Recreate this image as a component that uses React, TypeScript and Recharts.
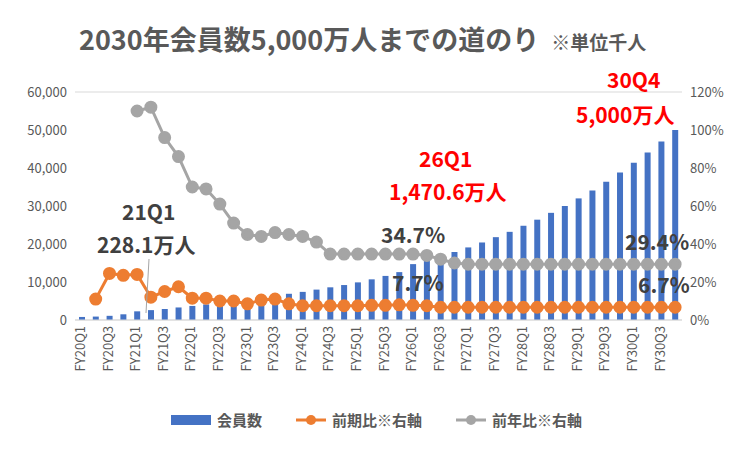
import React from "react";
import {
  ComposedChart,
  Bar,
  Line,
  XAxis,
  YAxis,
  CartesianGrid,
} from "recharts";

// 四半期 FY20Q1〜FY30Q4
const quarters = [
  "FY20Q1", "FY20Q2", "FY20Q3", "FY20Q4",
  "FY21Q1", "FY21Q2", "FY21Q3", "FY21Q4",
  "FY22Q1", "FY22Q2", "FY22Q3", "FY22Q4",
  "FY23Q1", "FY23Q2", "FY23Q3", "FY23Q4",
  "FY24Q1", "FY24Q2", "FY24Q3", "FY24Q4",
  "FY25Q1", "FY25Q2", "FY25Q3", "FY25Q4",
  "FY26Q1", "FY26Q2", "FY26Q3", "FY26Q4",
  "FY27Q1", "FY27Q2", "FY27Q3", "FY27Q4",
  "FY28Q1", "FY28Q2", "FY28Q3", "FY28Q4",
  "FY29Q1", "FY29Q2", "FY29Q3", "FY29Q4",
  "FY30Q1", "FY30Q2", "FY30Q3", "FY30Q4",
];

// 会員数（千人）
const members = [
  800, 900, 1100, 1500,
  2281, 2600, 2900, 3300,
  3700, 4100, 4500, 4900,
  5300, 5800, 6400, 6900,
  7400, 8000, 8600, 9200,
  9900, 10700, 11600, 12600,
  14706, 15700, 16800, 17900,
  19100, 20400, 21800, 23200,
  24800, 26400, 28200, 30000,
  32000, 34100, 36400, 38800,
  41400, 44100, 47000, 50000,
];

// 前期比（%）
const qoq = [
  null, 11, 24.5, 23.5,
  24, 12, 15, 17.5,
  11.5, 11.5, 10, 10,
  8.5, 10.5, 11, 8.5,
  7.5, 7.5, 7.5, 7.5,
  7.5, 7.7, 7.7, 8,
  7.7, 7.5, 6.7, 6.7,
  6.7, 6.7, 6.7, 6.7,
  6.7, 6.7, 6.7, 6.7,
  6.7, 6.7, 6.7, 6.7,
  6.7, 6.7, 6.7, 6.7,
];

// 前年比（%）
const yoy = [
  null, null, null, null,
  110, 112, 96, 86,
  70, 69, 61, 51,
  45, 44, 46, 45,
  44, 41, 34.7, 34.7,
  34.7, 34.7, 34.7, 34.7,
  34.7, 34, 32, 30,
  29.4, 29.4, 29.4, 29.4,
  29.4, 29.4, 29.4, 29.4,
  29.4, 29.4, 29.4, 29.4,
  29.4, 29.4, 29.4, 29.4,
];

const data = quarters.map((q, i) => ({
  q,
  members: members[i],
  qoq: qoq[i],
  yoy: yoy[i],
}));

const FONT = "'Noto Sans CJK JP', 'Noto Sans', sans-serif";
const TICK = { fontSize: 13, fill: "#595959", fontFamily: FONT };

function LegendContent() {
  const item = (icon: React.ReactNode, label: string) => (
    <div style={{ display: "flex", alignItems: "center", gap: 6, fontSize: 15, color: "#595959", fontWeight: 700 }}>
      {icon}
      {label}
    </div>
  );
  const lineIcon = (c: string) => (
    <svg width={30} height={12}>
      <line x1={0} y1={6} x2={30} y2={6} stroke={c} strokeWidth={3} />
      <circle cx={15} cy={6} r={5} fill={c} />
    </svg>
  );
  return (
    <div style={{ position: "absolute", left: 0, width: 751, top: 408, display: "flex", justifyContent: "center", gap: 34, fontFamily: FONT }}>
      {item(<div style={{ width: 40, height: 10, background: "#4472C4" }} />, "会員数")}
      {item(lineIcon("#ED7D31"), "前期比※右軸")}
      {item(lineIcon("#A5A5A5"), "前年比※右軸")}
    </div>
  );
}

const note = (x: number, y: number, text: string, color: string) => (
  <div
    style={{
      position: "absolute",
      left: x,
      top: y,
      color,
      fontSize: 21,
      fontWeight: 700,
      fontFamily: FONT,
      whiteSpace: "nowrap",
      lineHeight: 1,
    }}
  >
    {text}
  </div>
);

export default function App() {
  return (
    <div
      style={{
        position: "relative",
        width: 751,
        height: 450,
        border: "1px solid #d9d9d9",
        borderRadius: 8,
        background: "#fff",
        margin: -8,
      }}
    >
      <div
        style={{
          position: "absolute",
          left: 78,
          top: 24,
          fontFamily: FONT,
          color: "#595959",
          whiteSpace: "nowrap",
          lineHeight: 1,
        }}
      >
        <span style={{ fontSize: 27, fontWeight: 700 }}>2030年会員数5,000万人までの道のり</span>
        <span style={{ fontSize: 19, fontWeight: 700, marginLeft: 12 }}>※単位千人</span>
      </div>
      <ComposedChart
        width={751}
        height={450}
        data={data}
        margin={{ top: 91, right: 8, left: 12, bottom: 65 }}
      >
        <CartesianGrid vertical={false} stroke="#d9d9d9" />
        <XAxis
          dataKey="q"
          interval={1}
          angle={-90}
          textAnchor="end"
          dy={-2}
          dx={-6}
          height={66}
          tick={TICK}
          tickLine={false}
          axisLine={{ stroke: "#d9d9d9" }}
        />
        <YAxis
          yAxisId="l"
          domain={[0, 60000]}
          ticks={[0, 10000, 20000, 30000, 40000, 50000, 60000]}
          tickFormatter={(v) => v.toLocaleString("en-US")}
          tick={TICK}
          axisLine={false}
          tickLine={false}
          width={62}
        />
        <YAxis
          yAxisId="r"
          orientation="right"
          domain={[0, 120]}
          ticks={[0, 20, 40, 60, 80, 100, 120]}
          tickFormatter={(v) => `${v}%`}
          tick={TICK}
          axisLine={false}
          tickLine={false}
          width={62}
        />
        <Bar yAxisId="l" dataKey="members" fill="#4472C4" barSize={6} isAnimationActive={false} />
        <Line
          yAxisId="r"
          dataKey="qoq"
          stroke="#ED7D31"
          strokeWidth={3}
          dot={{ r: 5, fill: "#ED7D31", stroke: "#ED7D31" }}
          isAnimationActive={false}
        />
        <Line
          yAxisId="r"
          dataKey="yoy"
          stroke="#A5A5A5"
          strokeWidth={3}
          dot={{ r: 5, fill: "#A5A5A5", stroke: "#A5A5A5" }}
          isAnimationActive={false}
        />
      </ComposedChart>
      <LegendContent />
      <svg style={{ position: "absolute", left: 0, top: 0 }} width={751} height={450}>
        <line x1={148} y1={258} x2={145} y2={312} stroke="#A5A5A5" strokeWidth={1} />
      </svg>
      {note(121, 200, "21Q1", "#404040")}
      {note(96, 233, "228.1万人", "#404040")}
      {note(418, 147, "26Q1", "#FF0000")}
      {note(388, 180, "1,470.6万人", "#FF0000")}
      {note(380, 223, "34.7%", "#404040")}
      {note(391, 271, "7.7%", "#404040")}
      {note(606, 68, "30Q4", "#FF0000")}
      {note(575, 103, "5,000万人", "#FF0000")}
      {note(624, 230, "29.4%", "#404040")}
      {note(637, 273, "6.7%", "#404040")}
    </div>
  );
}
